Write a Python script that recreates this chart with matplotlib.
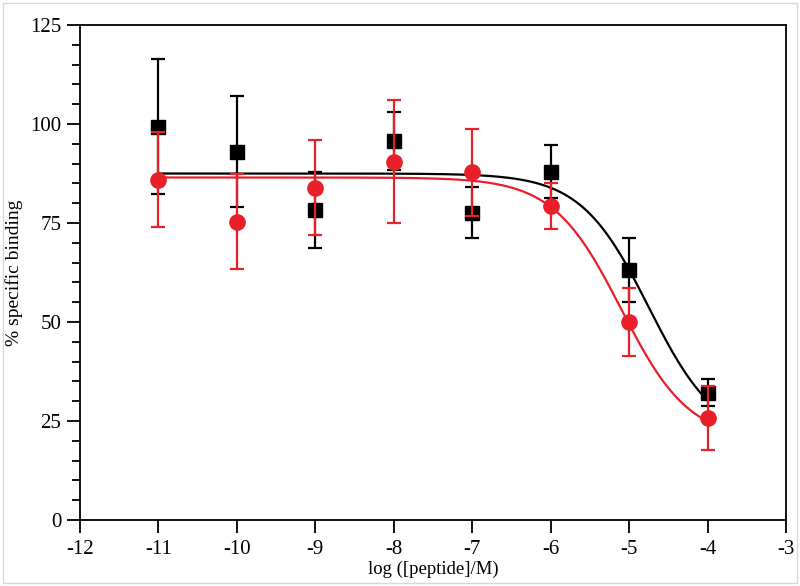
import numpy as np
import matplotlib
matplotlib.use("Agg")
import matplotlib.pyplot as plt
from matplotlib.ticker import MultipleLocator
from matplotlib.patches import Rectangle

# Daten
log_conc = np.array([-11, -10, -9, -8, -7, -6, -5, -4])

black_y = np.array([99.3, 93.0, 78.3, 95.7, 77.6, 88.0, 63.1, 32.2])
black_err = np.array([17.0, 14.0, 9.5, 7.4, 6.5, 6.8, 8.0, 3.4])

red_y = np.array([85.9, 75.3, 83.9, 90.5, 87.8, 79.3, 49.9, 25.8])
red_err = np.array([12.0, 12.0, 12.0, 15.5, 11.0, 5.8, 8.6, 8.0])

# Fit-Parameter (Sigmoid, Hill-Steigung 1)
black_fit = dict(top=87.5, bottom=20.0, logic50=-4.75)
red_fit = dict(top=86.5, bottom=20.0, logic50=-5.1)

x_ticks = [-12, -11, -10, -9, -8, -7, -6, -5, -4, -3]
y_ticks = [0, 25, 50, 75, 100, 125]

RED = "#e8202a"


def sigmoid(x, top, bottom, logic50):
    return bottom + (top - bottom) / (1 + 10 ** (x - logic50))


plt.rcParams["font.family"] = ["Liberation Serif", "DejaVu Serif"]

fig = plt.figure(figsize=(8, 5.86), dpi=100)
ax = fig.add_axes([0.1, 0.1126, 0.8825, 0.8447])

xs = np.linspace(-11, -4, 300)
ax.plot(xs, sigmoid(xs, **red_fit), color=RED, lw=1.6, zorder=2)
ax.plot(xs, sigmoid(xs, **black_fit), color="black", lw=1.6, zorder=2)

ax.errorbar(log_conc, black_y, yerr=black_err, fmt="s", color="black",
            markersize=9.5, elinewidth=1.6, capsize=5, capthick=1.6, zorder=3)
ax.errorbar(log_conc, red_y, yerr=red_err, fmt="o", color=RED,
            markersize=11, elinewidth=1.6, capsize=5, capthick=1.6, zorder=4)

ax.set_xlim(-12, -3)
ax.set_ylim(0, 125)
ax.set_xticks(x_ticks)
ax.set_xticklabels([str(t) for t in x_ticks])
ax.set_yticks(y_ticks)
ax.yaxis.set_minor_locator(MultipleLocator(5))

ax.tick_params(axis="both", which="major", direction="out", length=9.5,
               width=1.3, labelsize=15)
ax.tick_params(axis="x", which="major", pad=5)
ax.tick_params(axis="y", which="major", pad=4)
ax.tick_params(axis="y", which="minor", direction="out", length=6, width=1.3)

for sp in ax.spines.values():
    sp.set_linewidth(1.3)

ax.set_xlabel("log ([peptide]/M)", fontsize=13.5, labelpad=1)
ax.set_ylabel("% specific binding", fontsize=14, labelpad=5)

# dezenter Rahmen um die Abbildung
fig.patches.append(Rectangle((0.004, 0.005), 0.992, 0.99, transform=fig.transFigure,
                             fill=False, edgecolor="#d8d8d8", lw=1))

fig.savefig("out.png", dpi=100)
